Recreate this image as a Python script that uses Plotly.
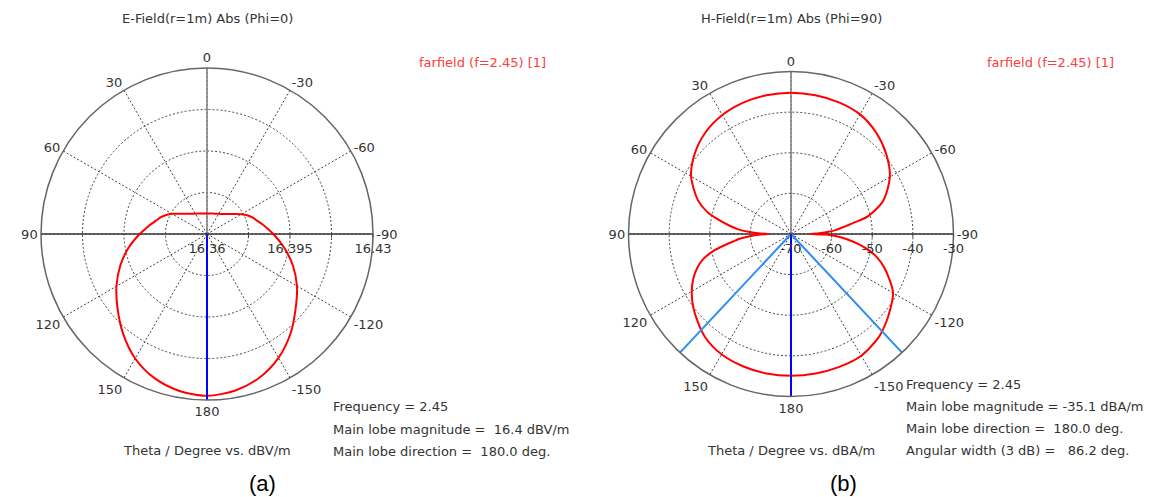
import plotly.graph_objects as go

W, H = 1149, 497
FONT = "DejaVu Sans"

# ---- E-field cut, Phi = 0 : theta (deg) vs |E| (dBV/m) ----
e_theta = [0, 10, 20, 30, 40, 50, 55, 60, 65, 70, 75, 80, 85, 90, 100, 110, 120, 130, 140, 150,
           160, 170, 180, 190, 200, 210, 220, 230, 240, 250, 260, 270, 275, 280, 285, 290, 295,
           300, 305, 310, 320, 330, 340, 350, 360]
e_abs = [16.3686, 16.3688, 16.3692, 16.3699, 16.3711, 16.3733, 16.3749, 16.3770, 16.3790,
         16.3807, 16.3821, 16.3840, 16.3860, 16.3884, 16.3936, 16.3989, 16.4041, 16.4092,
         16.4150, 16.4206, 16.4247, 16.4272, 16.4282, 16.4271, 16.4245, 16.4203, 16.4148,
         16.4088, 16.4038, 16.3985, 16.3930, 16.3880, 16.3857, 16.3837, 16.3818, 16.3804,
         16.3787, 16.3767, 16.3747, 16.3731, 16.3710, 16.3698, 16.3691, 16.3688, 16.3686]

# ---- H-field cut, Phi = 90 : theta (deg) vs |H| (dBA/m) ----
h_theta = [0, 10, 20, 30, 40, 50, 60, 70, 75, 78, 82, 85, 87, 89, 90, 91, 93, 95, 98, 102, 106,
           110, 115, 120, 125, 130, 140, 150, 160, 170, 180, 190, 200, 210, 220, 225, 230, 240,
           250, 255, 258, 261, 265, 267, 269, 270, 271, 273, 275, 277, 280, 283, 290, 300, 310,
           320, 330, 340, 350, 360]
h_abs = [-35.2, -35.3, -35.6, -36.2, -37.3, -39.1, -41.6, -45.6, -48.5, -51.0, -54.5, -57.0,
         -59.5, -62.5, -64.5, -62.5, -59.8, -57.5, -55.0, -50.8, -47.5, -45.4, -43.4, -41.8,
         -40.4, -39.2, -37.0, -35.8, -35.35, -35.15, -35.1, -35.15, -35.2, -35.4, -36.6, -37.6,
         -38.7, -41.0, -45.5, -48.2, -50.3, -52.8, -56.5, -58.5, -61.5, -65.3, -63.5, -61.0,
         -59.0, -57.5, -54.5, -50.5, -45.8, -41.9, -39.4, -37.4, -36.0, -35.5, -35.3, -35.2]

# axis ticks
ang_vals = [0, 30, 60, 90, 120, 150, 180, 210, 240, 270, 300, 330]
ang_text = ["0", "30", "60", "90", "120", "150", "180", "-150", "-120", "-90", "-60", "-30"]
e_rvals = [16.36, 16.3775, 16.395, 16.4125, 16.43]
e_rtext = ["16.36", "", "16.395", "", "16.43"]
h_rvals = [-70, -60, -50, -40, -30]
h_rtext = ["-70", "-60", "-50", "-40", "-30"]

# farfield summary
freq = 2.45
e_main_mag, e_main_dir = 16.4, 180.0
h_main_mag, h_main_dir, h_width_3db = -35.1, 180.0, 86.2

RED = "#ff0000"
BLUE = "#0000ff"
LIGHTBLUE = "#2b8cf5"
GRID = "#444444"
TXT = "#333333"
FS = 13


def px_x(x):
    return x / W


def px_y(y):
    return 1 - y / H


def domain(cx, cy, r):
    return dict(x=[px_x(cx - r), px_x(cx + r)], y=[px_y(cy + r), px_y(cy - r)])


def polar_cfg(dom, rrange, rvals, rtext):
    return dict(
        domain=dom,
        bgcolor="white",
        angularaxis=dict(
            rotation=90, direction="counterclockwise",
            tickmode="array", tickvals=ang_vals, ticktext=ang_text,
            showline=True, linecolor="#666666", linewidth=1.5,
            showgrid=True, gridcolor=GRID, gridwidth=1, griddash="2px,2px",
            ticks="", tickfont=dict(family=FONT, size=FS, color=TXT),
        ),
        radialaxis=dict(
            range=rrange, tickmode="array", tickvals=rvals, ticktext=rtext,
            showline=False, showgrid=True, gridcolor=GRID, gridwidth=1, griddash="2px,2px",
            angle=0, side="clockwise", tickangle=0,
            ticks="outside", ticklen=3, tickcolor=GRID,
            tickfont=dict(family=FONT, size=FS, color=TXT),
        ),
    )


fig = go.Figure()


def add_cut(sub, theta, r, rrange):
    rmin, rmax = rrange
    # solid cross-hair through the centre
    fig.add_trace(go.Scatterpolar(r=[rmax, rmin, rmax], theta=[0, 0, 180], mode="lines",
                                  line=dict(color="#858585", width=1.6), subplot=sub,
                                  hoverinfo="skip", showlegend=False))
    fig.add_trace(go.Scatterpolar(r=[rmax, rmin, rmax], theta=[90, 90, 270], mode="lines",
                                  line=dict(color="#383838", width=1.6), subplot=sub,
                                  hoverinfo="skip", showlegend=False))
    fig.add_trace(go.Scatterpolar(r=r, theta=theta, mode="lines",
                                  line=dict(color=RED, width=2, shape="spline", smoothing=0.8),
                                  subplot=sub, showlegend=False))


E_RANGE = [16.36, 16.43]
H_RANGE = [-70, -30]

add_cut("polar", e_theta, e_abs, E_RANGE)
fig.add_trace(go.Scatterpolar(r=[E_RANGE[0], E_RANGE[1]], theta=[e_main_dir, e_main_dir],
                              mode="lines", line=dict(color=BLUE, width=2),
                              subplot="polar", showlegend=False))

add_cut("polar2", h_theta, h_abs, H_RANGE)
half = h_width_3db / 2
for t in (h_main_dir - half, h_main_dir + half):
    fig.add_trace(go.Scatterpolar(r=[H_RANGE[0], H_RANGE[1]], theta=[t, t], mode="lines",
                                  line=dict(color=LIGHTBLUE, width=2),
                                  subplot="polar2", showlegend=False))
fig.add_trace(go.Scatterpolar(r=[H_RANGE[0], H_RANGE[1]], theta=[h_main_dir, h_main_dir],
                              mode="lines", line=dict(color=BLUE, width=2),
                              subplot="polar2", showlegend=False))

annotations = []


def text(x, y, s, size=FS, color=TXT, anchor="left", family=FONT):
    annotations.append(dict(x=px_x(x), y=px_y(y), xref="paper", yref="paper", text=s,
                            showarrow=False, xanchor=anchor, yanchor="middle",
                            font=dict(family=family, size=size, color=color)))


NB = "\u00a0"
# left panel
text(207, 18, "E-Field(r=1m) Abs (Phi=0)", anchor="center")
text(417, 62, "farfield (f=2.45) [1]", color="#ff3b3b")
text(207, 450, "Theta / Degree vs. dBV/m", anchor="center")
text(331, 406, f"Frequency = {freq}")
text(331, 429, f"Main lobe magnitude ={NB}{NB}{e_main_mag} dBV/m")
text(331, 451, f"Main lobe direction ={NB}{NB}{e_main_dir:.1f} deg.")
text(262, 483, "(a)", size=22, color="#000000", anchor="center", family="Liberation Sans")

# right panel
text(791, 18, "H-Field(r=1m) Abs (Phi=90)", anchor="center")
text(985, 62, "farfield (f=2.45) [1]", color="#ff3b3b")
text(791, 450, "Theta / Degree vs. dBA/m", anchor="center")
text(904, 384, f"Frequency = {freq}")
text(904, 406, f"Main lobe magnitude = {h_main_mag} dBA/m")
text(904, 428, f"Main lobe direction ={NB}{NB}{h_main_dir:.1f} deg.")
text(904, 450, f"Angular width (3 dB) ={NB}{NB}{NB}{h_width_3db} deg.")
text(843, 483, "(b)", size=22, color="#000000", anchor="center", family="Liberation Sans")

fig.update_layout(
    width=W, height=H,
    margin=dict(l=0, r=0, t=0, b=0),
    paper_bgcolor="white",
    showlegend=False,
    polar=polar_cfg(domain(207, 234, 166), E_RANGE, e_rvals, e_rtext),
    polar2=polar_cfg(domain(791, 234, 162.5), H_RANGE, h_rvals, h_rtext),
    annotations=annotations,
)

fig.write_html("out.html")
